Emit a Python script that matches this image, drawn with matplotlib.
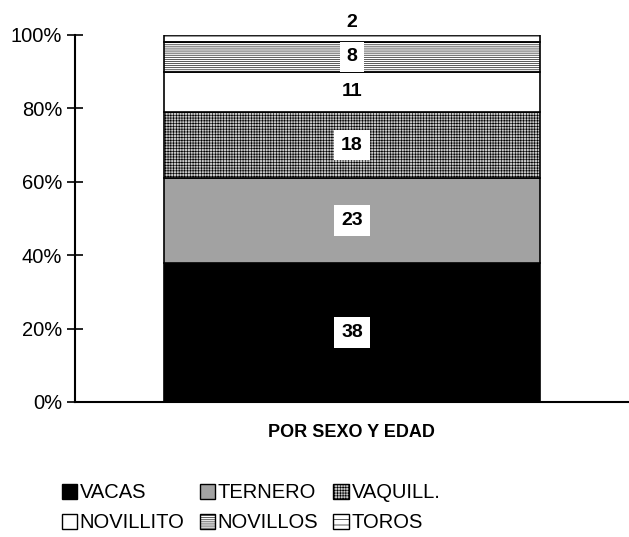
import numpy as np
import matplotlib
matplotlib.use("Agg")
from matplotlib import pyplot as plt
from matplotlib.patches import Patch

plt.rcParams['font.family'] = ['Liberation Sans', 'DejaVu Sans']
plt.rcParams['hatch.linewidth'] = 0.45

category = "POR SEXO Y EDAD"
labels = ["VACAS", "TERNERO", "VAQUILL.", "NOVILLITO", "NOVILLOS", "TOROS"]
values = [38, 23, 18, 11, 8, 2]
yticks = [0, 20, 40, 60, 80, 100]

# fill styles per segment (face, hatch)
faces = ['black', '#a2a2a2', '#c8c8c8', 'white', 'white', 'white']
hatches = [None, None, '++++++', None, '--------', '---']

fig = plt.figure(figsize=(6.29, 5.37), dpi=100)
ax = fig.add_axes([0.119, 0.2514, 0.881, 0.6835])

bottom = 0
handles = []
for lab, v, fc, h in zip(labels, values, faces, hatches):
    ax.bar(0, v, bottom=bottom, width=0.68, color=fc, hatch=h,
           edgecolor='black', linewidth=1.2)
    mid = bottom + v / 2
    if v <= 2:
        ax.text(0, bottom + v + 1.2, str(v), ha='center', va='bottom',
                fontsize=14, fontweight='bold')
    else:
        ax.text(0, mid, str(v), ha='center', va='center', fontsize=14,
                fontweight='bold',
                bbox=dict(boxstyle='square,pad=0.35', fc='white', ec='none'))
    bottom += v
    handles.append(Patch(facecolor=fc, hatch=h, edgecolor='black', label=lab))

ax.set_xlim(-0.5, 0.5)
ax.set_ylim(0, 100)
ax.set_yticks(yticks)
ax.set_yticklabels([f"{t}%" for t in yticks], fontsize=14.5)
ax.tick_params(axis='y', direction='inout', length=12, width=1.2, pad=3)
ax.set_xticks([])
ax.set_xlabel(category, fontsize=13, fontweight='bold', labelpad=16)
for s in ['top', 'right']:
    ax.spines[s].set_visible(False)
ax.spines['left'].set_linewidth(1.5)
ax.spines['bottom'].set_linewidth(1.5)

# legend fills column-wise, reorder so rows read across
order = [0, 3, 1, 4, 2, 5]
leg = fig.legend([handles[i] for i in order], [labels[i] for i in order],
                 ncol=3, loc='upper left', bbox_to_anchor=(0.085, 0.115),
                 frameon=False, fontsize=14.5, handlelength=0.75, handleheight=0.75,
                 handletextpad=0.15, columnspacing=0.75, labelspacing=0.55,
                 borderaxespad=0)

fig.savefig("out.png", dpi=100)
